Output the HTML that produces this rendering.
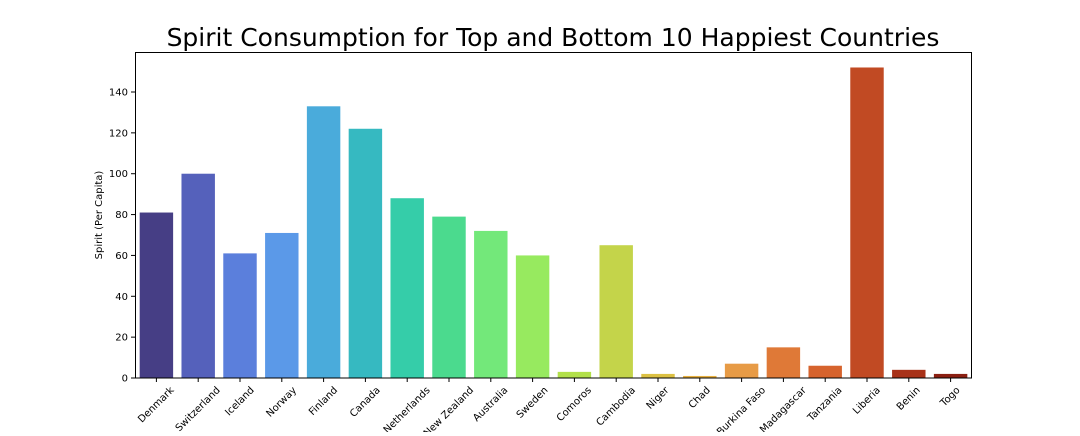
<!DOCTYPE html>
<html><head><meta charset="utf-8"><style>
body{margin:0;background:#fff;font-family:"DejaVu Sans","Liberation Sans",sans-serif}
</style></head><body>
<svg id="chart" width="1080" height="432" xmlns="http://www.w3.org/2000/svg" font-family="DejaVu Sans, Liberation Sans, sans-serif">
<text x="553" y="46" text-anchor="middle" font-size="25" fill="#000">Spirit Consumption for Top and Bottom 10 Happiest Countries</text>
<text transform="translate(102,215) rotate(-90)" text-anchor="middle" font-size="10">Spirit (Per Capita)</text>
<g id="bars"></g><g id="axes"></g>
<rect x="135.5" y="52.5" width="836" height="325.5" fill="none" stroke="#000" stroke-width="1"/>
</svg>
<script>
const categories=["Denmark","Switzerland","Iceland","Norway","Finland","Canada","Netherlands","New Zealand","Australia","Sweden","Comoros","Cambodia","Niger","Chad","Burkina Faso","Madagascar","Tanzania","Liberia","Benin","Togo"];
const values=[81,100,61,71,133,122,88,79,72,60,3,65,2,1,7,15,6,152,4,2];
const yTicks=[0,20,40,60,80,100,120,140];
const colors=["#463e85","#5561bb","#5b7fdc","#5b99e8","#4aabdb","#36b9c1","#35cda9","#4bda8e","#73e87a","#97ea5f","#b2e04a","#c4d44a","#dcc143","#e8b03f","#e79b46","#df7937","#d6632d","#c14a23","#a83219","#8b1f12"];
const NS="http://www.w3.org/2000/svg";
const x0=135.5,x1=971.5,yBase=378,pxPer=(378-92)/140;
const slot=(x1-x0)/categories.length;
function xs(i){return x0+slot*i+slot/2;}
function ys(v){return yBase-v*pxPer;}
const bars=document.getElementById('bars'),axes=document.getElementById('axes');
categories.forEach((c,i)=>{
 const r=document.createElementNS(NS,'rect');
 const w=slot*0.8;
 r.setAttribute('x',xs(i)-w/2);r.setAttribute('y',ys(values[i]));
 r.setAttribute('width',w);r.setAttribute('height',yBase-ys(values[i]));
 r.setAttribute('fill',colors[i]);
 
 
 bars.appendChild(r);
 const t=document.createElementNS(NS,'line');
 t.setAttribute('x1',xs(i));t.setAttribute('x2',xs(i));t.setAttribute('y1',378);t.setAttribute('y2',382);t.setAttribute('stroke','#000');
 axes.appendChild(t);
 const l=document.createElementNS(NS,'text');
 l.setAttribute('text-anchor','middle');l.setAttribute('font-size','10');
 l.setAttribute('dominant-baseline','central');
 l.textContent=c;
 
 
 axes.appendChild(l);
 const tw=l.getComputedTextLength();
 const cy=385+(tw+11)*0.7071/2;
 l.setAttribute('transform','translate('+xs(i)+','+cy+') rotate(-45)');
});
yTicks.forEach(v=>{
 const t=document.createElementNS(NS,'line');
 t.setAttribute('x1',131);t.setAttribute('x2',135.5);t.setAttribute('y1',ys(v));t.setAttribute('y2',ys(v));t.setAttribute('stroke','#000');
 axes.appendChild(t);
 const l=document.createElementNS(NS,'text');
 l.setAttribute('x',128);l.setAttribute('y',ys(v)+3.5);l.setAttribute('text-anchor','end');l.setAttribute('font-size','10');
 l.textContent=v;
 
 
 axes.appendChild(l);
});
</script>
</body></html>
